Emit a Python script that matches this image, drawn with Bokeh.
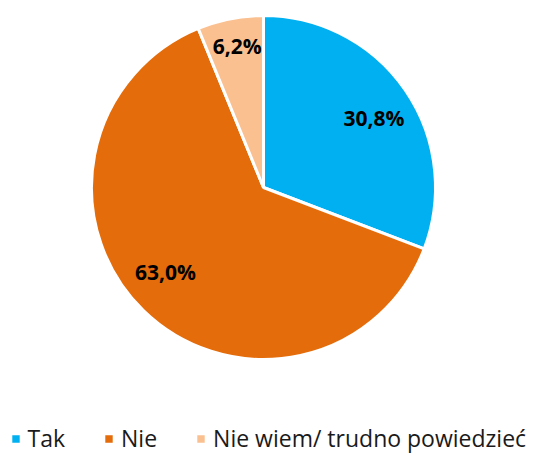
from bokeh.plotting import figure
from bokeh.models import ColumnDataSource, Range1d, Legend, LegendItem
from bokeh.core.properties import value
from bokeh.embed import file_html
from bokeh.resources import INLINE
import math

# data
categories = ["Tak", "Nie", "Nie wiem/ trudno powiedzieć"]
shares = [30.8, 63.0, 6.2]
labels = ["30,8%", "63,0%", "6,2%"]
colors = ["#00B0F0", "#E46C0A", "#FAC090"]

# layout (pixels)
W, H = 534, 454
cx, cy, R = 263, 454 - 187, 172
label_r = [0.758, 0.752, 0.835]
label_da = [-2.4, -5.0, -0.6]

total = sum(shares)
starts, ends, lx, ly = [], [], [], []
a = math.pi / 2
for i, s in enumerate(shares):
    span = s / total * 2 * math.pi
    starts.append(a)
    ends.append(a - span)
    mid = a - span / 2 + math.radians(label_da[i])
    lx.append(cx + label_r[i] * R * math.cos(mid))
    ly.append(cy + label_r[i] * R * math.sin(mid))
    a -= span

src = ColumnDataSource(dict(start=starts, end=ends, color=colors, cat=categories,
                            lx=lx, ly=ly, label=labels))

p = figure(width=W, height=H, output_backend="svg", toolbar_location=None,
           x_range=Range1d(0, W), y_range=Range1d(0, H),
           x_axis_type=None, y_axis_type=None, min_border=0)
p.grid.visible = False
p.outline_line_color = None

r = p.wedge(x=cx, y=cy, radius=R, start_angle="start", end_angle="end",
            direction="clock", fill_color="color", line_color="white",
            line_width=3, source=src)
p.text(x="lx", y="ly", text="label", source=src, text_align="center",
       text_baseline="middle", text_font=value("Open Sans"),
       text_font_size="21px", text_font_style="bold", text_color="black")

items = [LegendItem(label=categories[i], renderers=[r], index=i) for i in range(3)]
legend = Legend(items=items, orientation="horizontal", location=(8.5, 0),
                glyph_width=13, glyph_height=13, label_standoff=6, spacing=37,
                label_text_font="Open Sans", label_text_font_size="23px",
                label_text_color="#1a1a1a",
                padding=0, margin=0, border_line_color=None,
                background_fill_alpha=0)
p.add_layout(legend, "center")

open("out.html", "w").write(file_html(p, INLINE))
